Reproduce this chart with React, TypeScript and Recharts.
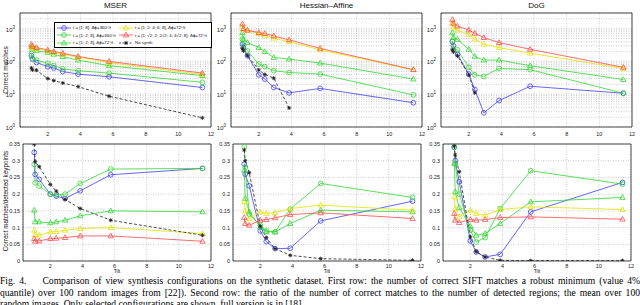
import React from "react";
import { LineChart, Line, XAxis, YAxis, CartesianGrid, ReferenceArea } from "recharts";

// tilt values of the synthetic dataset
const tilts = [1, 1.06, 1.31, 2, 2.37, 2.92, 3.86, 5.76, 11.47];
const xTicks = [2, 4, 6, 8, 10, 12];
const logMajor = [1, 10, 100, 1000];
const ratioTicks = [0, 0.05, 0.1, 0.15, 0.2, 0.25, 0.3, 0.35];

// first row: correct matches (log)
const mserTopBlue = [150, 118, 93, 69, 63, 49, 41, 34, 16];
const mserTopGreenC = [174, 123, 110, 87, 75, 59, 52, 44, 23];
const mserTopGreenT = [280, 240, 215, 187, 165, 140, 110, 74, 37];
const mserTopYellow = [290, 265, 240, 210, 190, 165, 135, 92, 40];
const mserTopRed = [330, 290, 265, 225, 200, 178, 142, 100, 44];
const mserTopBlack = [63, 55, 54, 30, 26, 22, 17, 8.7, 1.9];

const hesTopBlue = [335, 265, 148, 39, 29, 16, 11, 15, 5.5];
const hesTopGreenC = [475, 310, 210, 83, 69, 52, 46, 41, 9.5];
const hesTopGreenT = [750, 475, 375, 265, 200, 132, 118, 89, 29];
const hesTopYellow = [1200, 950, 880, 700, 620, 510, 400, 225, 56];
const hesTopRed = [1400, 1000, 900, 760, 710, 600, 455, 250, 56];
const hesTopBlack = [245, 210, 150, 55, 40, 31, 3.8, null, null];

const dogTopBlue = [400, 300, 165, 41, 14, 2.7, 6.4, 17.5, 10.7];
const dogTopGreenC = [420, 235, 225, 66, 39, 35, 61, 56, 10.7];
const dogTopGreenT = [750, 535, 470, 235, 142, 110, 110, 74, 28];
const dogTopYellow = [1500, 1100, 900, 670, 480, 335, 265, 178, 61];
const dogTopRed = [1900, 1450, 1200, 910, 720, 535, 375, 235, 66];
const dogTopBlack = [225, 195, 148, 39, 11, null, null, null, null];

// second row: correct matches / detected keypoints
const mserBotBlue = [0.325, 0.259, 0.244, 0.2, 0.194, 0.187, 0.21, 0.258, 0.277];
const mserBotGreenC = [0.289, 0.234, 0.224, 0.2, 0.197, 0.2, 0.232, 0.275, 0.277];
const mserBotGreenT = [0.152, 0.117, 0.117, 0.114, 0.117, 0.122, 0.135, 0.15, 0.147];
const mserBotYellow = [0.092, 0.079, 0.077, 0.087, 0.088, 0.092, 0.097, 0.1, 0.082];
const mserBotRed = [0.067, 0.059, 0.06, 0.067, 0.068, 0.07, 0.075, 0.075, 0.059];
const mserBotBlack = [0.35, 0.297, 0.282, 0.229, 0.209, 0.184, 0.157, 0.122, 0.077];

const hesBotBlue = [0.29, 0.26, 0.225, 0.09, 0.058, 0.037, 0.038, 0.12, 0.179];
const hesBotGreenC = [0.342, 0.28, 0.14, 0.107, 0.09, 0.087, 0.155, 0.232, 0.19];
const hesBotGreenT = [0.272, 0.187, 0.147, 0.102, 0.087, 0.087, 0.112, 0.152, 0.147];
const hesBotYellow = [0.177, 0.15, 0.127, 0.147, 0.142, 0.145, 0.157, 0.167, 0.152];
const hesBotRed = [0.13, 0.112, 0.107, 0.122, 0.124, 0.129, 0.139, 0.144, 0.127];
const hesBotBlack = [0.332, 0.3, 0.264, 0.104, 0.07, 0.037, 0.017, 0.007, 0.002];

const dogBotBlue = [0.34, 0.3, 0.237, 0.06, 0.027, 0.012, 0.02, 0.147, 0.235];
const dogBotGreenC = [0.34, 0.29, 0.2, 0.092, 0.057, 0.07, 0.157, 0.27, 0.23];
const dogBotGreenT = [0.292, 0.207, 0.16, 0.104, 0.077, 0.082, 0.112, 0.177, 0.19];
const dogBotYellow = [0.192, 0.157, 0.132, 0.152, 0.142, 0.137, 0.154, 0.162, 0.154];
const dogBotRed = [0.142, 0.122, 0.115, 0.124, 0.122, 0.124, 0.13, 0.132, 0.125];
const dogBotBlack = [0.344, 0.317, 0.267, 0.072, 0.028, 0.012, 0.002, 0.001, 0.001];

const legendLabels = [
  "t = [1; 8], \u0394\u03d5=360\u00b0/t",
  "t = [1; 2; 8], \u0394\u03d5=360\u00b0/t",
  "t = [1; 2; 8], \u0394\u03d5=72\u00b0/t",
  "t = [1; 2; 4; 6; 8], \u0394\u03d5=72\u00b0/t",
  "t = [1; \u221a2; 2; 2\u221a2; 4; 4\u221a2; 8], \u0394\u03d5=72\u00b0/t",
  "No synth",
];

const BLUE = "#4040f4";
const GREEN = "#33d633";
const YELLOW = "#e2e200";
const RED = "#ff4a4a";
const BLACK = "#222";

const styles = [
  { color: BLUE, marker: "o" },
  { color: GREEN, marker: "o" },
  { color: GREEN, marker: "^" },
  { color: YELLOW, marker: "^" },
  { color: RED, marker: "^" },
  { color: BLACK, marker: "*", dashed: true },
];

const FONT = "'Liberation Sans', Arial, sans-serif";

function Marker({ cx, cy, color, kind }: any) {
  if (cx == null || cy == null || isNaN(cy)) return <g />;
  if (kind === "o") return <circle cx={cx} cy={cy} r={2.4} fill="none" stroke={color} strokeWidth={0.8} />;
  if (kind === "^")
    return (
      <path
        d={`M${cx},${cy - 2.8}L${cx + 2.7},${cy + 1.9}L${cx - 2.7},${cy + 1.9}Z`}
        fill="none"
        stroke={color}
        strokeWidth={0.8}
      />
    );
  const s = 2;
  return (
    <g stroke={color} strokeWidth={0.9}>
      <line x1={cx - s} y1={cy} x2={cx + s} y2={cy} />
      <line x1={cx} y1={cy - s} x2={cx} y2={cy + s} />
      <line x1={cx - s * 0.7} y1={cy - s * 0.7} x2={cx + s * 0.7} y2={cy + s * 0.7} />
      <line x1={cx - s * 0.7} y1={cy + s * 0.7} x2={cx + s * 0.7} y2={cy - s * 0.7} />
    </g>
  );
}

const PAD_L = 34, PAD_T = 4, PAD_R = 6, PAD_B = 13;

function LogTick({ x, y, payload }: any) {
  const e = logMajor.indexOf(payload.value);
  if (e < 0) return <g />;
  return (
    <text x={x - 1} y={y + 3} textAnchor="end" fontSize={6} fontFamily={FONT} fill="#222">
      10<tspan dy={-3} fontSize={4.5}>{e}</tspan>
    </text>
  );
}

function Panel({ l, t, r, b, log, values }: any) {
  const rows = tilts.map((x, i) => {
    const o: any = { t: x };
    values.forEach((arr: any[], k: number) => (o["s" + k] = arr[i]));
    return o;
  });
  const w = r - l + PAD_L + PAD_R;
  const h = b - t + PAD_T + PAD_B;
  const yDomain = log ? [1, 3000] : [0, 0.35];
  const logTicks: number[] = [];
  logMajor.forEach((d) => [1, 2, 3, 4, 5, 6, 7, 8, 9].forEach((m) => m * d <= 3000 && logTicks.push(m * d)));
  return (
    <div style={{ position: "absolute", left: l - PAD_L, top: t - PAD_T, width: w, height: h }}>
      <LineChart width={w} height={h} data={rows} margin={{ top: PAD_T, right: PAD_R, bottom: 0, left: 0 }}>
        <CartesianGrid stroke="#aaa" strokeWidth={0.6} strokeDasharray="1 1.5" />
        <XAxis
          type="number"
          dataKey="t"
          domain={[0.3, 12]}
          ticks={xTicks}
          allowDataOverflow
          axisLine={false}
          tickLine={false}
          tickSize={2}
          height={PAD_B}
          tickMargin={log ? 3 : 1}
          interval={0}
          tick={{ fontSize: 5.5, fontFamily: FONT, fill: "#222" }}
        />
        {log ? (
          <YAxis
            scale="log"
            domain={yDomain}
            ticks={logTicks}
            allowDataOverflow
            axisLine={false}
            tickLine={false}
            tickSize={2}
            width={PAD_L}
            interval={0}
            tick={<LogTick />}
          />
        ) : (
          <YAxis
            domain={yDomain}
            ticks={ratioTicks}
            allowDataOverflow
            axisLine={false}
            tickLine={false}
            tickSize={2}
            width={PAD_L}
            interval={0}
            tickMargin={1}
            tickFormatter={(v: number) => String(+v.toFixed(2))}
            tick={{ fontSize: 5.5, fontFamily: FONT, fill: "#222" }}
          />
        )}
        {styles.map((s, k) => (
          <Line
            key={k}
            dataKey={"s" + k}
            stroke={s.color}
            strokeWidth={0.8}
            strokeDasharray={s.dashed ? "3 2" : undefined}
            isAnimationActive={false}
            dot={(p: any) => <Marker key={p.index} cx={p.cx} cy={p.cy} color={s.color} kind={s.marker} />}
            activeDot={false}
          />
        ))}
        <ReferenceArea x1={0.3} x2={12} y1={yDomain[0]} y2={yDomain[1]} fill="none" stroke="#000" strokeWidth={0.7} />
      </LineChart>
    </div>
  );
}

function LegendIcon({ color, kind, dashed }: any) {
  return (
    <svg width={14} height={6} style={{ display: "block" }}>
      <line x1={0} y1={3} x2={14} y2={3} stroke={color} strokeWidth={0.8} strokeDasharray={dashed ? "2 1.5" : undefined} />
      <Marker cx={7} cy={3} color={color} kind={kind} />
    </svg>
  );
}

function Legend() {
  const order = [0, 3, 1, 4, 2, 5];
  return (
    <div
      style={{
        position: "absolute",
        left: 54,
        top: 22,
        width: 156,
        height: 23,
        border: "0.7px solid #000",
        background: "#fff",
        display: "grid",
        gridTemplateColumns: "62px 94px",
        gridTemplateRows: "repeat(3, 7.6px)",
        fontFamily: FONT,
        fontSize: 4.4,
        color: "#111",
        paddingTop: 1,
        overflow: "hidden",
      }}
    >
      {order.map((k) => (
        <div key={k} style={{ display: "flex", alignItems: "center", whiteSpace: "nowrap" }}>
          <span style={{ marginLeft: 2, marginRight: 2 }}>
            <LegendIcon color={styles[k].color} kind={styles[k].marker} dashed={styles[k].dashed} />
          </span>
          {legendLabels[k]}
        </div>
      ))}
    </div>
  );
}

const abs = (o: any): any => ({ position: "absolute", fontFamily: FONT, color: "#111", whiteSpace: "nowrap", ...o });

function VLabel({ x, y, size, children }: any) {
  return (
    <div
      style={abs({
        left: x - 100,
        top: y - 5,
        width: 200,
        height: 10,
        lineHeight: "10px",
        textAlign: "center",
        fontSize: size,
        transform: "rotate(-90deg)",
      })}
    >
      {children}
    </div>
  );
}

export default function App() {
  const topL = [20, 231, 441], topR = [211, 422, 632];
  const botL = [23, 233, 443], botR = [211, 421, 631];
  const top = [
    [mserTopBlue, mserTopGreenC, mserTopGreenT, mserTopYellow, mserTopRed, mserTopBlack],
    [hesTopBlue, hesTopGreenC, hesTopGreenT, hesTopYellow, hesTopRed, hesTopBlack],
    [dogTopBlue, dogTopGreenC, dogTopGreenT, dogTopYellow, dogTopRed, dogTopBlack],
  ];
  const bot = [
    [mserBotBlue, mserBotGreenC, mserBotGreenT, mserBotYellow, mserBotRed, mserBotBlack],
    [hesBotBlue, hesBotGreenC, hesBotGreenT, hesBotYellow, hesBotRed, hesBotBlack],
    [dogBotBlue, dogBotGreenC, dogBotGreenT, dogBotYellow, dogBotRed, dogBotBlack],
  ];
  const titles = ["MSER", "Hessian\u2013Affine", "DoG"];
  const capStyle = { fontFamily: "'Liberation Serif', 'Times New Roman', serif", fontSize: 9.6, lineHeight: "11.5px" };
  return (
    <div style={{ position: "fixed", left: 0, top: 0, width: 640, height: 305, background: "#fff", overflow: "hidden" }}>
      {titles.map((s, i) => (
        <div key={s} style={abs({ left: topL[i], width: topR[i] - topL[i], top: 1, textAlign: "center", fontSize: 8 })}>
          {s}
        </div>
      ))}
      {top.map((v, i) => (
        <Panel key={"t" + i} l={topL[i]} r={topR[i]} t={13} b={127} log values={v} />
      ))}
      {bot.map((v, i) => (
        <Panel key={"b" + i} l={botL[i]} r={botR[i]} t={144} b={261} values={v} />
      ))}
      {bot.map((_, i) => (
        <div
          key={"tl" + i}
          style={abs({ left: botL[i], width: botR[i] - botL[i], top: 269, lineHeight: "5px", textAlign: "center", fontSize: 5 })}
        >
          Tilt
        </div>
      ))}
      <VLabel x={6} y={70} size={6.5}>Correct matches</VLabel>
      <VLabel x={6} y={201} size={6.3}>Correct matches/detected keypoints</VLabel>
      <Legend />
      <div style={{ position: "absolute", left: 0, top: 275, width: 640, ...capStyle }}>
        <div style={{ textAlign: "justify", textAlignLast: "justify", whiteSpace: "nowrap" }}>
          Fig. 4. &nbsp;&nbsp; Comparison of view synthesis configurations on the synthetic dataset. First row: the number of correct SIFT matches a robust minimum (value 4%
        </div>
        <div style={{ textAlign: "justify", textAlignLast: "justify", whiteSpace: "nowrap" }}>
          quantile) over 100 random images from [22]). Second row: the ratio of the number of correct matches to the number of detected regions; the mean over 100
        </div>
        <div style={{ whiteSpace: "nowrap" }}>
          random images. Only selected configurations are shown, full version is in [18].
        </div>
      </div>
    </div>
  );
}
